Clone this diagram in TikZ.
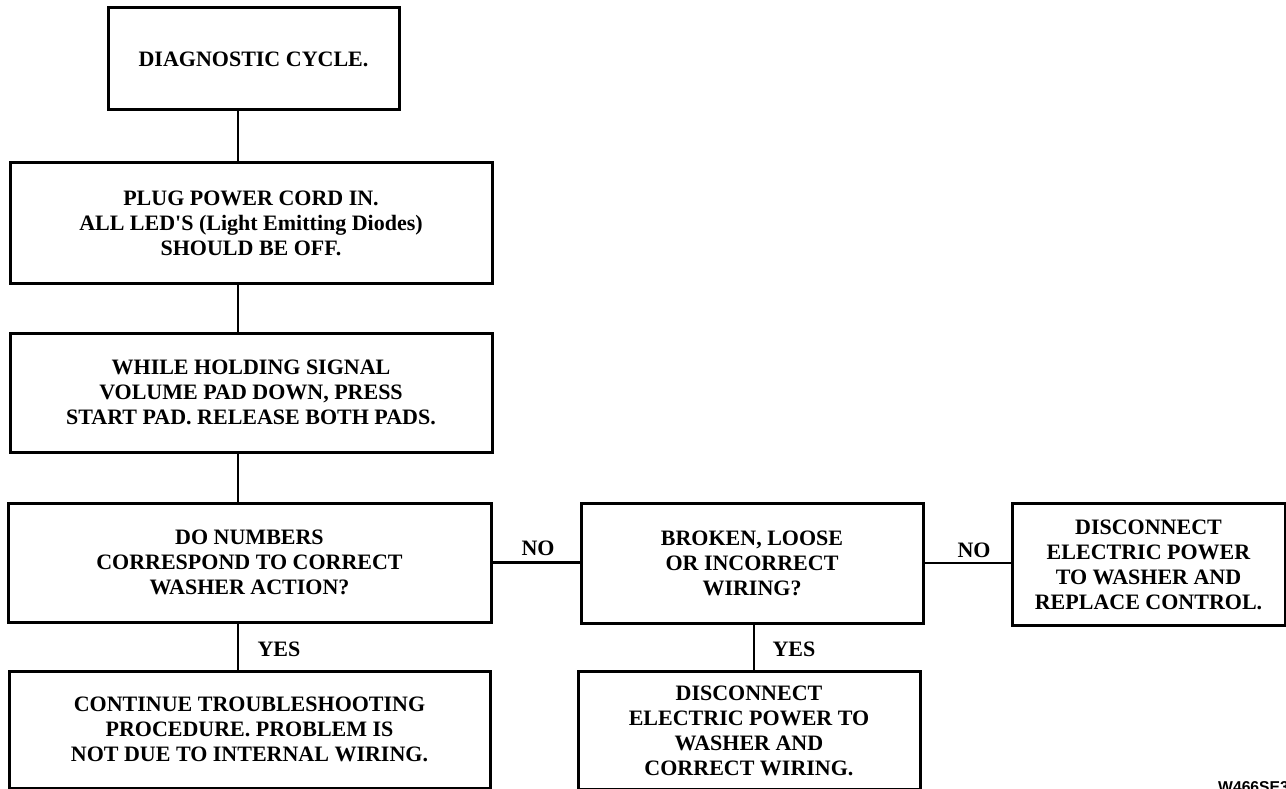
\documentclass[tikz,border=0pt]{standalone}
\usepackage{fontspec}
\setmainfont{Liberation Serif}
\newfontfamily\labelfont{Liberation Sans}
\begin{document}
\begin{tikzpicture}[x=1pt,y=-1pt,
  box/.style={draw, line width=3pt, rectangle, align=center, inner sep=0pt,
    font=\fontsize{22}{25}\selectfont\bfseries},
  lbl/.style={font=\fontsize{22}{25}\selectfont\bfseries, inner sep=0pt},
  conn/.style={line width=2.4pt}]
\useasboundingbox (0,0) rectangle (1286,789);
\node[box, minimum width=291pt, minimum height=102pt] (b1) at (253.5,59) {\raisebox{-4pt}{DIAGNOSTIC CYCLE.}};
\node[box, minimum width=482pt, minimum height=120pt] (b2) at (251,223)
  {PLUG POWER CORD IN.\\ALL LED\textquotesingle S (Light Emitting Diodes)\\SHOULD BE OFF.};
\node[box, minimum width=482pt, minimum height=119pt] (b3) at (251,392.5)
  {WHILE HOLDING SIGNAL\\VOLUME PAD DOWN, PRESS\\START PAD. RELEASE BOTH PADS.};
\node[box, minimum width=483pt, minimum height=119pt] (b4) at (249.5,562.5)
  {DO NUMBERS\\CORRESPOND TO CORRECT\\WASHER ACTION?};
\node[box, minimum width=481pt, minimum height=117pt] (b5) at (249.5,729.5)
  {CONTINUE TROUBLESHOOTING\\PROCEDURE. PROBLEM IS\\NOT DUE TO INTERNAL WIRING.};
\node[box, minimum width=342pt, minimum height=120pt] (b6) at (752,563)
  {BROKEN, LOOSE\\OR INCORRECT\\WIRING?};
\node[box, minimum width=342pt, minimum height=118pt] (b7) at (749,730.5)
  {DISCONNECT\\ELECTRIC POWER TO\\WASHER AND\\CORRECT WIRING.};
\node[box, minimum width=273pt, minimum height=122pt] (b8) at (1148.5,564.5)
  {DISCONNECT\\ELECTRIC POWER\\TO WASHER AND\\REPLACE CONTROL.};
\coordinate (cx) at (238,0);
\coordinate (cy) at (754,0);
\draw[conn] (b1.south -| cx) -- (b2.north -| cx);
\draw[conn] (b2.south -| cx) -- (b3.north -| cx);
\draw[conn] (b3.south -| cx) -- (b4.north -| cx);
\draw[conn] (b4.south -| cx) -- (b5.north -| cx);
\draw[conn] (b4.east) -- (b4.east -| b6.west);
\draw[conn] (b6.east) -- (b6.east -| b8.west);
\draw[conn] (b6.south -| cy) -- (b7.north -| cy);
\node[lbl] (no1) at (538,548) {NO};
\node[lbl] (no2) at (974,550) {NO};
\node[lbl] (yes1) at (279,649) {YES};
\node[lbl] (yes2) at (794,649) {YES};
\node[anchor=base west, inner sep=0pt, font=\labelfont\fontsize{15.7}{18}\selectfont\bfseries] (code) at (1218,792) {W466SE3};
\end{tikzpicture}
\end{document}
